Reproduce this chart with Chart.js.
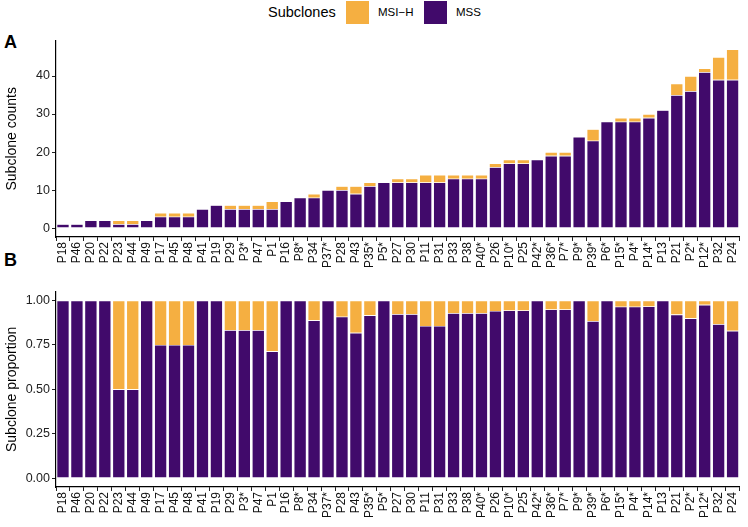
<!DOCTYPE html>
<html>
<head>
<meta charset="utf-8">
<script src="https://cdn.jsdelivr.net/npm/chart.js@4.4.1/dist/chart.umd.min.js"></script>
<style>
  body { margin: 0; background: white; font-family: "Liberation Sans", Arial, sans-serif; }
  #wrap { position: relative; width: 748px; height: 527px; overflow: hidden; }
  canvas { position: absolute; left: 0; }
  .tag { position: absolute; font-weight: bold; font-size: 18px; color: #000; }
  #legend { position: absolute; top: 0; left: 0; width: 748px; height: 27px; }
  #legend span { position: absolute; }
  .sw { width: 23px; height: 23px; top: 1px; }
</style>
</head>
<body>
<div id="wrap">
  <div id="legend">
    <span style="left:268px; top:4px; font-size:14.5px;">Subclones</span>
    <span class="sw" style="left:346px; background:#F5AF41;"></span>
    <span style="left:378px; top:6px; font-size:11.5px;">MSI−H</span>
    <span class="sw" style="left:424px; background:#410A6B;"></span>
    <span style="left:456px; top:6px; font-size:11.5px;">MSS</span>
  </div>
  <div class="tag" style="left:4px; top:32px;">A</div>
  <div class="tag" style="left:4px; top:250px;">B</div>
  <canvas id="chartA" width="748" height="250" style="top:30px;"></canvas>
  <canvas id="chartB" width="748" height="247" style="top:280px;"></canvas>
</div>
<script>
// patients, ordered by total subclone count
const patients = ['P18', 'P46', 'P20', 'P22', 'P23', 'P44', 'P49', 'P17', 'P45', 'P48',
  'P41', 'P19', 'P29', 'P3*', 'P47', 'P1', 'P16', 'P8*', 'P34', 'P37*',
  'P28', 'P43', 'P35*', 'P5*', 'P27', 'P30', 'P11', 'P31', 'P33', 'P38',
  'P40*', 'P26', 'P10*', 'P25', 'P42*', 'P36*', 'P7*', 'P9*', 'P39*', 'P6*',
  'P15*', 'P4*', 'P14*', 'P13', 'P21', 'P2*', 'P12*', 'P32', 'P24'];

const mssCounts = [1, 1, 2, 2, 1, 1, 2, 3, 3, 3,
  5, 6, 5, 5, 5, 5, 7, 8, 8, 10,
  10, 9, 11, 12, 12, 12, 12, 12, 13, 13,
  13, 16, 17, 17, 18, 19, 19, 24, 23, 28,
  28, 28, 29, 31, 35, 36, 41, 39, 39];

const msiCounts = [0, 0, 0, 0, 1, 1, 0, 1, 1, 1,
  0, 0, 1, 1, 1, 2, 0, 0, 1, 0,
  1, 2, 1, 0, 1, 1, 2, 2, 1, 1,
  1, 1, 1, 1, 0, 1, 1, 0, 3, 0,
  1, 1, 1, 0, 3, 4, 1, 6, 8];

const countTicks = [0, 10, 20, 30, 40];
const propTicks = [0, 0.25, 0.5, 0.75, 1];

const colMSI = '#F5AF41';
const colMSS = '#410A6B';

// proportions for panel B
const mssProp = mssCounts.map((v, i) => v / (v + msiCounts[i]));
const msiProp = msiCounts.map((v, i) => v / (v + mssCounts[i]));

Chart.defaults.font.family = '"Liberation Sans", Arial, sans-serif';
Chart.defaults.color = '#222';

function makeChart(id, mss, msi, yTicks, yMin, yMax, yTitle, fmt, padTop, xHeight) {
  return new Chart(document.getElementById(id), {
    type: 'bar',
    data: {
      labels: patients,
      datasets: [
        { label: 'MSS', data: mss, backgroundColor: colMSS, borderColor: 'rgba(255,255,255,0.7)', borderWidth: 0.6 },
        { label: 'MSI−H', data: msi, backgroundColor: colMSI, borderColor: 'rgba(255,255,255,0.7)', borderWidth: 0.6 }
      ]
    },
    options: {
      responsive: false,
      animation: false,
      layout: { padding: { top: padTop, right: 2, left: 0, bottom: 0 } },
      plugins: { legend: { display: false }, tooltip: { enabled: false } },
      datasets: { bar: { categoryPercentage: 1, barPercentage: 0.9 } },
      scales: {
        x: {
          stacked: true,
          offset: true,
          grid: { display: true, drawOnChartArea: false, drawTicks: true, tickLength: 4, color: '#222', lineWidth: 1 },
          border: { display: true, color: '#000', width: 1.2 },
          ticks: { minRotation: 90, maxRotation: 90, autoSkip: false, padding: 1, font: { size: 12 }, color: '#111' },
          afterFit: function(scale) { scale.height = xHeight; }
        },
        y: {
          stacked: true,
          min: yMin,
          max: yMax,
          grid: { display: true, drawOnChartArea: false, drawTicks: true, tickLength: 4, color: '#222', lineWidth: 1 },
          border: { display: true, color: '#000', width: 1.2 },
          ticks: { padding: 2, font: { size: 12.5 }, color: '#222', callback: fmt },
          afterBuildTicks: function(scale) { scale.ticks = yTicks.map(v => ({ value: v })); },
          afterFit: function(scale) { scale.width = 56; },
          title: { display: true, text: yTitle, font: { size: 14 }, color: '#000', padding: { top: 4, bottom: 0 } }
        }
      }
    }
  });
}

makeChart('chartA', mssCounts, msiCounts, countTicks, -2.35, 49.35, 'Subclone counts',
  v => String(v), 10.5, 43);
makeChart('chartB', mssProp, msiProp, propTicks, -0.05, 1.05, 'Subclone proportion',
  v => v.toFixed(2), 11.7, 40);
</script>
</body>
</html>
